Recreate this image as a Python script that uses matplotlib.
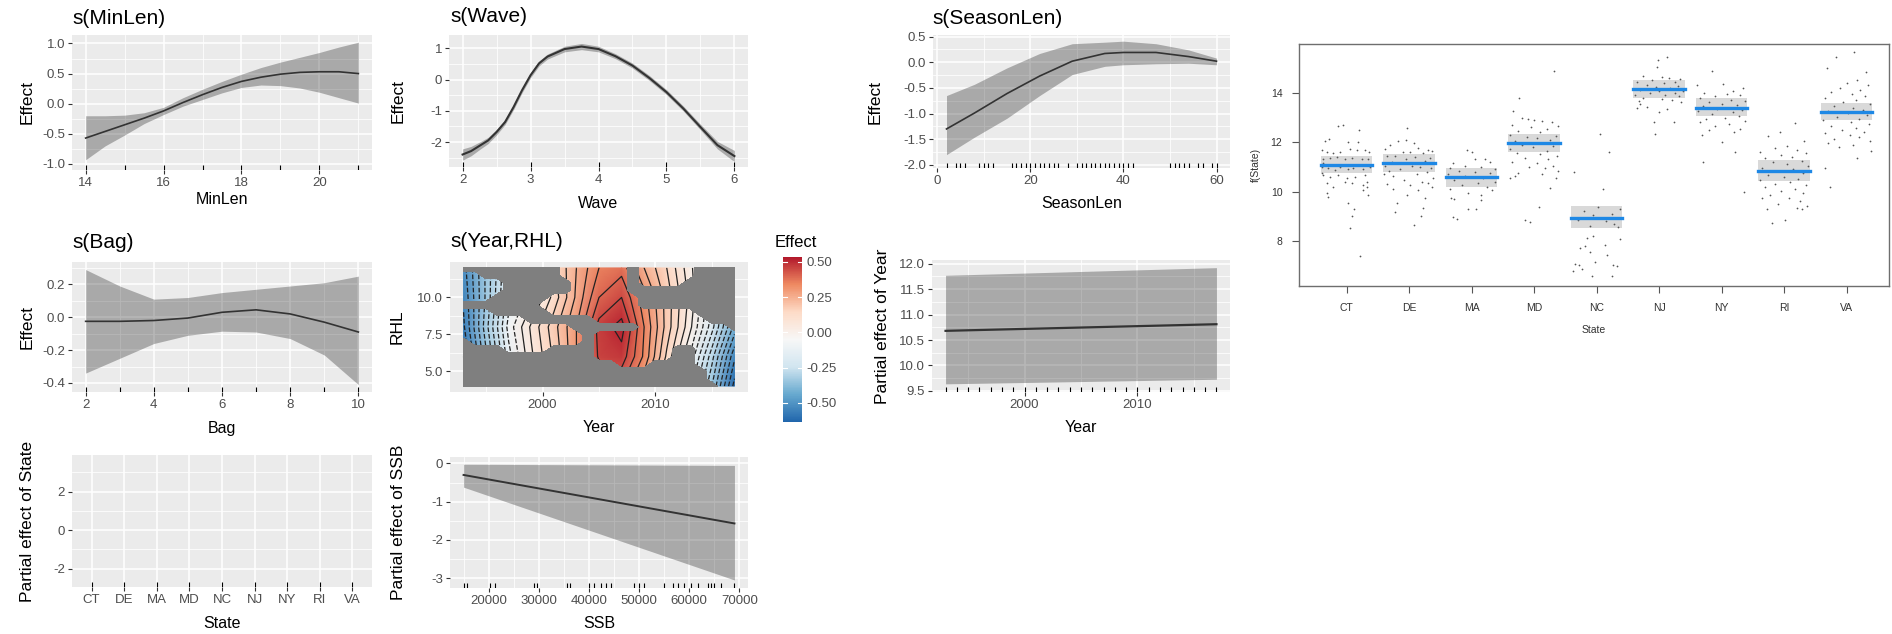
import numpy as np
import matplotlib
matplotlib.use("Agg")
import matplotlib.pyplot as plt
from matplotlib.colors import Normalize, LinearSegmentedColormap

plt.rcParams['font.family'] = ['Liberation Sans', 'DejaVu Sans']
plt.rcParams['axes.unicode_minus'] = False

W, H = 1892, 634

# ---- smooth terms ----
minlen_x = [14, 14.5, 15, 15.5, 16, 16.5, 17, 17.5, 18, 18.5, 19, 19.5, 20, 20.5, 21]
minlen_fit = [-0.57, -0.46, -0.35, -0.24, -0.12, 0.02, 0.15, 0.27, 0.37, 0.44, 0.49, 0.52, 0.53, 0.53, 0.50]
minlen_hi = [-0.20, -0.20, -0.19, -0.15, -0.06, 0.10, 0.24, 0.37, 0.49, 0.60, 0.69, 0.77, 0.85, 0.94, 1.02]
minlen_lo = [-0.93, -0.70, -0.52, -0.33, -0.18, -0.04, 0.07, 0.18, 0.27, 0.31, 0.30, 0.26, 0.19, 0.10, 0.01]
minlen_rug = [14, 15, 16, 17, 18, 19, 20, 21]

wave_x = [2, 2.125, 2.25, 2.375, 2.5, 2.625, 2.75, 2.875, 3, 3.125, 3.25, 3.5, 3.75, 4,
          4.25, 4.5, 4.75, 5, 5.25, 5.5, 5.75, 6]
wave_fit = [-2.40, -2.29, -2.12, -1.95, -1.68, -1.36, -0.88, -0.34, 0.14, 0.52, 0.74, 0.98, 1.06, 0.98,
            0.75, 0.45, 0.05, -0.40, -0.93, -1.52, -2.10, -2.45]
wave_se = [0.18, 0.15, 0.12, 0.10, 0.09, 0.08, 0.08, 0.08, 0.08, 0.08, 0.08, 0.09, 0.10, 0.09,
           0.08, 0.08, 0.08, 0.08, 0.08, 0.09, 0.12, 0.18]
wave_rug = [2, 3, 4, 5, 6]

season_x = [2, 8, 15, 22, 29, 36, 40, 47, 54, 60]
season_fit = [-1.30, -0.99, -0.61, -0.27, 0.02, 0.17, 0.19, 0.19, 0.11, 0.02]
season_hi = [-0.65, -0.43, -0.11, 0.17, 0.36, 0.39, 0.41, 0.36, 0.24, 0.08]
season_lo = [-1.80, -1.46, -1.09, -0.65, -0.24, -0.08, -0.05, -0.03, -0.02, -0.05]
season_rug = [2, 4, 5, 6, 9, 10, 11, 12, 16, 17, 18, 19, 20, 21, 22, 23, 24, 25, 26, 28,
              30, 31, 32, 33, 34, 35, 36, 37, 38, 39, 40, 41, 42, 50, 51, 52, 53, 54, 56, 57, 59, 60]

bag_x = [2, 3, 4, 5, 6, 7, 8, 9, 10]
bag_fit = [-0.025, -0.025, -0.02, -0.005, 0.03, 0.045, 0.02, -0.03, -0.09]
bag_hi = [0.29, 0.19, 0.11, 0.12, 0.15, 0.17, 0.19, 0.21, 0.25]
bag_lo = [-0.34, -0.25, -0.16, -0.11, -0.085, -0.09, -0.13, -0.23, -0.41]
bag_rug = [2, 3, 4, 5, 6, 7, 8, 9, 10]

# ---- tensor smooth s(Year,RHL) ----
grid_years = [1993, 1995, 1997, 1999, 2001, 2003, 2005, 2007, 2009, 2011, 2013, 2015, 2017]
grid_rhl = [4, 6, 8, 10, 12]
effect_grid = [
    [-0.62, -0.40, -0.15, 0.02, 0.14, 0.26, 0.38, 0.40, 0.26, 0.08, -0.12, -0.35, -0.62],
    [-0.60, -0.36, -0.12, 0.04, 0.16, 0.30, 0.46, 0.48, 0.34, 0.14, -0.05, -0.28, -0.54],
    [-0.56, -0.32, -0.08, 0.06, 0.18, 0.30, 0.47, 0.52, 0.35, 0.18, 0.02, -0.18, -0.42],
    [-0.54, -0.34, -0.12, -0.02, 0.12, 0.26, 0.40, 0.45, 0.32, 0.18, 0.04, -0.14, -0.36],
    [-0.52, -0.34, -0.14, -0.02, 0.14, 0.25, 0.35, 0.38, 0.25, 0.15, 0.02, -0.12, -0.30],
]
# cells too far from data (one char per year 1993..2017, rows RHL 12 down to 4 by 0.5)
coverage = [
    ".........######.#####....",
    "##.......######.#####....",
    "####......#####.####.....",
    "####......#####..........",
    "###.....########.........",
    ".......#########.........",
    "###.....#############....",
    "######......##########...",
    "##########......########.",
    "###########.#############",
    ".##########.#############",
    "....####....#######..####",
    "............#######..####",
    "..............###....####",
    "......................###",
    "......................###",
    ".......................##",
]
rdbu = ['#2166AC', '#67A9CF', '#D1E5F0', '#F7F7F7', '#FDDBC7', '#EF8A62', '#B2182B']

# ---- parametric terms ----
year_x = [1993, 2017]
year_fit = [10.68, 10.81]
year_hi = [11.77, 11.92]
year_lo = [9.64, 9.73]
year_rug = list(range(1993, 2018))

states = ["CT", "DE", "MA", "MD", "NC", "NJ", "NY", "RI", "VA"]

ssb_x = [15000, 69000]
ssb_fit = [-0.30, -1.57]
ssb_hi = [-0.02, -0.05]
ssb_lo = [-0.62, -3.05]
ssb_rug = [15000, 15700, 20300, 21300, 29000, 29700, 35700, 36300, 40000, 41000, 42300, 43300,
           44300, 49000, 50000, 51000, 55000, 56700, 57700, 59000, 60300, 61700, 63700, 64300,
           65000, 66300, 69000]

# ---- f(State) effects and partial residuals ----
state_fit = [11.08, 11.16, 10.57, 11.96, 8.94, 14.15, 13.39, 10.84, 13.21]
state_hi = [11.44, 11.50, 10.97, 12.34, 9.40, 14.52, 13.78, 11.28, 13.58]
state_lo = [10.77, 10.80, 10.20, 11.62, 8.53, 13.78, 13.04, 10.41, 12.91]

ct_pts = [(-0.35, 12.05), (-0.28, 12.13), (-0.13, 12.67), (-0.05, 12.69), (0.03, 11.99), (0.20, 12.49),
          (0.19, 12.02), (-0.39, 11.68), (-0.32, 11.59), (-0.21, 11.55), (-0.10, 11.62), (0.05, 11.72),
          (0.16, 11.68), (0.29, 11.68), (0.36, 11.59), (-0.37, 11.32), (-0.27, 11.37), (-0.15, 11.41),
          (-0.03, 11.32), (0.08, 11.37), (0.24, 11.32), (0.35, 11.32), (-0.40, 11.01), (-0.29, 10.97),
          (-0.19, 10.88), (-0.11, 11.01), (0.03, 10.92), (0.11, 10.97), (0.27, 10.92), (0.37, 11.01),
          (-0.37, 10.67), (-0.27, 10.57), (-0.13, 10.67), (0.00, 10.54), (0.13, 10.57), (0.29, 10.67),
          (0.33, 10.40), (-0.32, 10.34), (-0.21, 10.20), (-0.03, 10.40), (0.08, 10.34), (0.26, 10.27),
          (0.32, 10.20), (-0.32, 9.93), (-0.29, 9.80), (0.27, 10.07), (0.35, 9.87), (0.03, 9.53),
          (0.12, 9.30), (0.08, 9.03), (0.05, 8.52), (0.21, 7.41), (-0.37, 11.14), (0.21, 11.08),
          (-0.40, 10.74)]
de_pts = [(-0.04, 12.59), (-0.17, 12.05), (-0.05, 12.08), (0.08, 11.95), (-0.30, 11.90), (0.15, 11.78),
          (-0.38, 11.72), (0.30, 11.70), (0.37, 11.65), (-0.10, 11.60), (0.02, 11.62), (0.22, 11.55),
          (-0.35, 11.45), (-0.22, 11.42), (0.10, 11.40), (0.33, 11.35), (-0.05, 11.30), (0.25, 11.25),
          (-0.28, 11.20), (-0.38, 11.05), (0.05, 11.02), (0.18, 10.98), (0.35, 10.95), (-0.15, 10.90),
          (-0.32, 10.85), (0.28, 10.80), (-0.40, 10.72), (0.12, 10.70), (-0.25, 10.65), (0.38, 10.55),
          (-0.08, 10.45), (0.20, 10.40), (0.30, 10.35), (-0.35, 10.30), (0.02, 10.25), (0.36, 10.20),
          (-0.25, 10.12), (0.15, 10.05), (-0.03, 9.85), (0.25, 9.76), (-0.20, 9.55), (0.23, 9.35),
          (-0.22, 9.19), (0.19, 9.02), (0.08, 8.63)]
ma_pts = [(-0.07, 11.68), (0.00, 11.60), (0.05, 11.30), (0.22, 11.30), (-0.30, 11.15), (0.30, 11.20),
          (-0.10, 11.05), (0.15, 11.00), (-0.35, 10.95), (0.37, 10.90), (-0.20, 10.85), (0.05, 10.80),
          (0.30, 10.75), (-0.38, 10.70), (-0.10, 10.62), (0.18, 10.55), (-0.28, 10.45), (0.38, 10.40),
          (0.10, 10.35), (-0.15, 10.25), (0.25, 10.20), (-0.35, 10.12), (0.32, 10.05), (-0.05, 9.95),
          (0.15, 9.85), (-0.33, 9.73), (-0.28, 9.69), (0.15, 9.66), (-0.06, 9.30), (0.07, 9.30),
          (-0.30, 8.99), (-0.24, 8.90)]
md_pts = [(0.32, 14.88), (-0.24, 13.80), (-0.33, 13.26), (-0.20, 12.98), (-0.10, 12.95), (0.00, 12.90),
          (0.12, 12.85), (0.28, 12.80), (-0.35, 12.70), (0.38, 12.65), (-0.05, 12.60), (0.20, 12.55),
          (-0.25, 12.45), (0.10, 12.40), (-0.38, 12.30), (0.35, 12.25), (-0.12, 12.20), (0.05, 12.15),
          (0.25, 12.10), (-0.30, 12.05), (0.15, 11.95), (-0.20, 11.90), (0.30, 11.85), (-0.02, 11.80),
          (-0.38, 11.72), (0.20, 11.65), (-0.28, 11.55), (0.10, 11.50), (0.36, 11.45), (-0.15, 11.35),
          (0.22, 11.30), (-0.35, 11.20), (0.05, 11.15), (0.30, 11.05), (-0.08, 11.00), (0.18, 10.95),
          (0.38, 10.85), (-0.25, 10.75), (0.12, 10.70), (-0.31, 10.65), (-0.39, 10.54), (0.35, 10.55),
          (0.25, 10.13), (0.08, 9.39), (-0.15, 8.83), (-0.07, 8.76)]
nc_pts = [(0.06, 12.33), (0.20, 11.59), (-0.36, 10.79), (0.11, 10.11), (0.03, 9.38), (0.38, 9.30),
          (-0.20, 9.20), (0.25, 9.10), (-0.05, 9.05), (0.32, 8.95), (-0.30, 8.85), (0.15, 8.80),
          (0.28, 8.70), (-0.10, 8.60), (0.35, 8.55), (-0.15, 8.14), (0.38, 8.10), (-0.05, 8.20),
          (-0.19, 7.80), (0.13, 7.82), (-0.27, 7.71), (0.17, 7.44), (-0.10, 7.55), (-0.02, 7.15),
          (-0.34, 7.06), (-0.28, 7.04), (0.26, 7.01), (0.32, 6.97), (-0.24, 6.86), (-0.38, 6.79),
          (0.25, 6.60), (-0.07, 6.60)]
nj_pts = [(0.13, 15.43), (-0.01, 15.32), (-0.04, 15.02), (-0.25, 14.67), (0.04, 14.65), (0.16, 14.58),
          (0.33, 14.55), (-0.12, 14.50), (0.25, 14.45), (-0.35, 14.42), (0.08, 14.38), (-0.20, 14.30),
          (0.30, 14.28), (-0.05, 14.22), (0.18, 14.18), (-0.30, 14.12), (0.38, 14.08), (0.00, 14.05),
          (-0.15, 14.00), (0.25, 13.98), (-0.38, 13.92), (0.10, 13.90), (0.32, 13.85), (-0.25, 13.80),
          (0.05, 13.75), (0.20, 13.70), (-0.32, 13.65), (0.35, 13.62), (-0.30, 13.53), (-0.19, 13.43),
          (-0.35, 13.40), (0.12, 13.35), (0.00, 13.20), (-0.08, 12.83), (0.24, 12.80), (-0.06, 12.32)]
ny_pts = [(-0.16, 14.88), (0.02, 14.34), (-0.39, 14.31), (0.35, 14.18), (0.19, 14.07), (-0.28, 14.00),
          (0.08, 13.95), (0.30, 13.90), (-0.10, 13.85), (-0.35, 13.78), (0.15, 13.72), (0.38, 13.68),
          (-0.20, 13.62), (0.00, 13.55), (0.25, 13.50), (-0.30, 13.45), (0.10, 13.40), (-0.08, 13.35),
          (0.33, 13.30), (-0.38, 13.25), (0.18, 13.20), (-0.15, 13.12), (0.28, 13.05), (0.05, 12.98),
          (-0.25, 12.92), (0.38, 12.85), (-0.35, 12.80), (0.12, 12.72), (-0.10, 12.65), (0.30, 12.55),
          (-0.20, 12.48), (0.20, 12.40), (-0.32, 12.30), (0.01, 12.02), (0.22, 11.59), (-0.30, 11.21),
          (0.36, 10.00)]
ri_pts = [(0.17, 12.76), (-0.07, 12.40), (-0.25, 12.25), (0.32, 12.05), (0.05, 11.85), (-0.15, 11.75),
          (0.20, 11.70), (-0.39, 11.62), (0.35, 11.55), (-0.05, 11.48), (0.12, 11.40), (-0.30, 11.35),
          (0.28, 11.25), (-0.18, 11.18), (0.05, 11.10), (0.38, 11.02), (-0.35, 10.95), (0.15, 10.90),
          (-0.10, 10.82), (0.30, 10.75), (-0.25, 10.68), (0.00, 10.60), (0.22, 10.52), (-0.38, 10.45),
          (0.10, 10.38), (-0.15, 10.30), (0.35, 10.25), (-0.30, 10.18), (0.18, 10.10), (-0.05, 10.02),
          (0.30, 9.95), (-0.22, 9.85), (0.08, 9.75), (-0.35, 9.73), (0.25, 9.62), (-0.10, 9.50),
          (0.37, 9.42), (0.20, 9.35), (0.28, 9.30), (-0.28, 9.28), (0.02, 8.86), (-0.20, 8.72)]
va_pts = [(0.12, 15.63), (-0.17, 15.45), (-0.31, 14.98), (0.31, 14.85), (0.16, 14.51), (0.00, 14.40),
          (0.35, 14.30), (-0.10, 14.20), (0.22, 14.10), (-0.25, 14.02), (0.08, 13.95), (0.30, 13.85),
          (-0.35, 13.78), (0.15, 13.70), (-0.05, 13.62), (0.38, 13.55), (-0.20, 13.48), (0.10, 13.40),
          (0.27, 13.32), (-0.30, 13.25), (0.02, 13.18), (0.33, 13.10), (-0.15, 13.02), (0.20, 12.95),
          (-0.38, 12.88), (0.07, 12.80), (0.36, 12.72), (-0.25, 12.65), (0.15, 12.58), (-0.08, 12.50),
          (0.28, 12.42), (-0.35, 12.35), (0.05, 12.28), (0.20, 12.20), (-0.20, 12.12), (0.38, 12.05),
          (-0.30, 11.98), (0.10, 11.90), (-0.12, 11.80), (0.39, 11.64), (0.16, 11.37), (-0.35, 10.94),
          (-0.27, 10.20)]
state_pts = [ct_pts, de_pts, ma_pts, md_pts, nc_pts, nj_pts, ny_pts, ri_pts, va_pts]

TICK_GREY = '#4d4d4d'


def fig_box(x0, y0, x1, y1):
    return [x0 / W, 1 - y1 / H, (x1 - x0) / W, (y1 - y0) / H]


def gg_axes(px, xlim, ylim, xticks, yticks, xminor=(), yminor=()):
    ax = fig.add_axes(fig_box(*px))
    ax.set_facecolor('#EBEBEB')
    for s in ax.spines.values():
        s.set_visible(False)
    ax.set_xlim(*xlim)
    ax.set_ylim(*ylim)
    ax.set_xticks(xticks)
    ax.set_yticks(yticks)
    ax.set_xticks(list(xminor), minor=True)
    ax.set_yticks(list(yminor), minor=True)
    ax.grid(which='major', color='white', lw=1.1)
    ax.grid(which='minor', color='white', lw=0.55)
    ax.set_axisbelow(True)
    ax.tick_params(which='major', length=3, width=0.8, color='#333333',
                   labelcolor=TICK_GREY, labelsize=9.5, pad=2)
    ax.tick_params(which='minor', length=0)
    return ax


def gg_labels(ax, px, xlab, ylab, ylab_x, xlab_y):
    x0, y0, x1, y1 = px
    ax.set_xlabel(xlab, fontsize=11.5, va='center')
    ax.set_ylabel(ylab, fontsize=12.5, va='center')
    ax.xaxis.set_label_coords(0.5, (y1 - xlab_y) / (y1 - y0))
    ax.yaxis.set_label_coords((ylab_x - x0) / (x1 - x0), 0.5)


def gg_title(text, x, y):
    fig.text(x / W, 1 - y / H, text, fontsize=15, ha='left', va='center')


def rug(ax, xs):
    ax.vlines(xs, 0, 0.035, transform=ax.get_xaxis_transform(), color='black', lw=0.8)


def smooth(ax, x, fit, lo, hi, lw=1.2):
    ax.fill_between(x, lo, hi, color='black', alpha=0.28, lw=0)
    ax.plot(x, fit, color='#333333', lw=lw)


fig = plt.figure(figsize=(W / 100, H / 100), dpi=100)

# s(MinLen)
p1 = (72, 35, 372, 170)
ax = gg_axes(p1, (13.65, 21.35), (-1.1, 1.14), [14, 16, 18, 20], [-1, -0.5, 0, 0.5, 1],
             [15, 17, 19, 21], [-0.75, -0.25, 0.25, 0.75])
ax.set_yticklabels(['-1.0', '-0.5', '0.0', '0.5', '1.0'])
smooth(ax, minlen_x, minlen_fit, minlen_lo, minlen_hi)
rug(ax, minlen_rug)
gg_labels(ax, p1, 'MinLen', 'Effect', 27, 200)
gg_title('s(MinLen)', 72, 18)

# s(Wave)
p2 = (449, 35, 748, 167)
ax = gg_axes(p2, (1.8, 6.2), (-2.8, 1.43), [2, 3, 4, 5, 6], [-2, -1, 0, 1],
             [2.5, 3.5, 4.5, 5.5], [-2.5, -1.5, -0.5, 0.5])
wave_lo = np.array(wave_fit) - np.array(wave_se)
wave_hi = np.array(wave_fit) + np.array(wave_se)
smooth(ax, wave_x, wave_fit, wave_lo, wave_hi, lw=1.5)
rug(ax, wave_rug)
gg_labels(ax, p2, 'Wave', 'Effect', 398, 203)
gg_title('s(Wave)', 450, 17)

# s(SeasonLen)
p3 = (933, 35, 1230, 168)
ax = gg_axes(p3, (-0.9, 62.9), (-2.06, 0.53), [0, 20, 40, 60], [-2, -1.5, -1, -0.5, 0, 0.5],
             [10, 30, 50], [-1.75, -1.25, -0.75, -0.25, 0.25])
ax.set_yticklabels(['-2.0', '-1.5', '-1.0', '-0.5', '0.0', '0.5'])
smooth(ax, season_x, season_fit, season_lo, season_hi)
rug(ax, season_rug)
gg_labels(ax, p3, 'SeasonLen', 'Effect', 875, 204)
gg_title('s(SeasonLen)', 932, 18)

# s(Bag)
p4 = (72, 262, 372, 392)
ax = gg_axes(p4, (1.6, 10.4), (-0.455, 0.336), [2, 4, 6, 8, 10], [-0.4, -0.2, 0, 0.2],
             [3, 5, 7, 9], [-0.3, -0.1, 0.1, 0.3])
ax.set_yticklabels(['-0.4', '-0.2', '0.0', '0.2'])
smooth(ax, bag_x, bag_fit, bag_lo, bag_hi)
rug(ax, bag_rug)
gg_labels(ax, p4, 'Bag', 'Effect', 27, 428)
gg_title('s(Bag)', 72, 242)

# s(Year,RHL)
p5 = (450, 262, 748, 392)
ax = gg_axes(p5, (1991.8, 2018.2), (3.6, 12.4), [2000, 2010], [5, 7.5, 10],
             [1995, 2005, 2015], [6.25, 8.75, 11.25])
ax.set_yticklabels(['5.0', '7.5', '10.0'])
cmap = LinearSegmentedColormap.from_list('rdbu_gg', rdbu)
norm = Normalize(-0.635, 0.535)
gy, gr = np.meshgrid(grid_years, grid_rhl)
mesh = ax.pcolormesh(gy, gr, np.array(effect_grid), shading='gouraud', cmap=cmap, norm=norm)
ax.contour(gy, gr, np.array(effect_grid), levels=np.arange(-0.6, 0.56, 0.05),
           colors='#222222', linewidths=0.9)
cov = np.array([[1.0 if c == '#' else 0.0 for c in row] for row in coverage[::-1]])
cy, cr = np.meshgrid(np.arange(1993, 2018), np.arange(4, 12.01, 0.5))
ax.contourf(cy, cr, cov, levels=[-0.5, 0.5], colors='#7f7f7f', zorder=3)
gg_labels(ax, p5, 'Year', 'RHL', 397, 428)
gg_title('s(Year,RHL)', 450, 241)

cax = fig.add_axes(fig_box(783, 257, 802, 422))
cb = fig.colorbar(mesh, cax=cax)
cb.outline.set_visible(False)
cb_ticks = [-0.5, -0.25, 0, 0.25, 0.5]
cb.set_ticks(cb_ticks)
cb.set_ticklabels(['-0.50', '-0.25', '0.00', '0.25', '0.50'])
cax.tick_params(length=0, labelsize=9.5, labelcolor=TICK_GREY, pad=3)
for v in cb_ticks:
    cax.plot([0, 0.2], [v, v], color='white', lw=0.8, transform=cax.get_yaxis_transform())
    cax.plot([0.8, 1], [v, v], color='white', lw=0.8, transform=cax.get_yaxis_transform())
fig.text(775 / W, 1 - 242 / H, 'Effect', fontsize=12, ha='left', va='center')

# Year (parametric)
p6 = (932, 260, 1230, 392)
ax = gg_axes(p6, (1991.8, 2018.2), (9.48, 12.07), [2000, 2010],
             [9.5, 10, 10.5, 11, 11.5, 12], [1995, 2005, 2015],
             [9.75, 10.25, 10.75, 11.25, 11.75])
ax.set_yticklabels(['9.5', '10.0', '10.5', '11.0', '11.5', '12.0'])
smooth(ax, year_x, year_fit, year_lo, year_hi, lw=1.6)
rug(ax, year_rug)
gg_labels(ax, p6, 'Year', 'Partial effect of Year', 882, 428)

# State (parametric, empty)
p7 = (72, 455, 372, 587)
ax = gg_axes(p7, (-0.6, 8.6), (-2.96, 3.91), range(len(states)), [-2, 0, 2], [], [-1, 1, 3])
ax.set_xticklabels(states)
rug(ax, range(len(states)))
gg_labels(ax, p7, 'State', 'Partial effect of State', 28, 623)

# SSB (parametric)
p8 = (450, 457, 748, 588)
ax = gg_axes(p8, (12300, 71700), (-3.26, 0.17), [20000, 30000, 40000, 50000, 60000, 70000],
             [-3, -2, -1, 0], [15000, 25000, 35000, 45000, 55000, 65000], [-2.5, -1.5, -0.5])
ax.set_xticklabels(['20000', '30000', '40000', '50000', '60000', '70000'])
smooth(ax, ssb_x, ssb_fit, ssb_lo, ssb_hi, lw=1.4)
rug(ax, ssb_rug)
gg_labels(ax, p8, 'SSB', 'Partial effect of SSB', 398, 623)

# f(State) with partial residuals
ax = fig.add_axes(fig_box(1299, 44, 1889, 286))
half = 0.41
for i, st in enumerate(states):
    ax.fill_between([i - half, i + half], state_lo[i], state_hi[i], color='#d9d9d9', lw=0, zorder=1)
    pts = np.array(state_pts[i])
    ax.scatter(i + pts[:, 0], pts[:, 1], s=1.6, color='#555555', lw=0, zorder=2)
    ax.plot([i - half, i + half], [state_fit[i], state_fit[i]], color='#1e88e5', lw=2.4, zorder=3)
ax.set_xlim(-0.76, 8.68)
ax.set_ylim(6.18, 15.97)
ax.set_xticks(range(len(states)))
ax.set_xticklabels(states)
ax.set_yticks([8, 10, 12, 14])
for s in ax.spines.values():
    s.set_color('#6e6e6e')
    s.set_linewidth(1)
ax.tick_params(length=5, width=0.8, color='#555555', labelsize=7.5, labelcolor='#333333', pad=7)
ax.set_xlabel('State', fontsize=7.5, color='#333333')
ax.set_ylabel('f(State)', fontsize=7.5, color='#333333')
ax.xaxis.set_label_coords(0.5, -(330 - 286) / 242)
ax.yaxis.set_label_coords(-(1299 - 1256) / 590, 0.5)
ax.xaxis.label.set_va('center')
ax.yaxis.label.set_va('center')

fig.savefig('out.png', dpi=100)
